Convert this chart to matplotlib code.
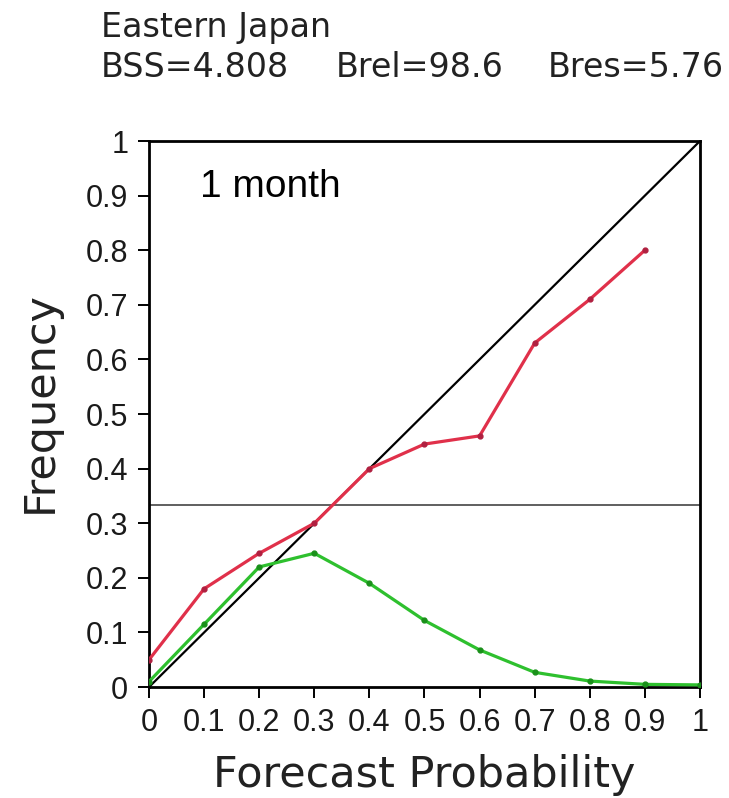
import numpy as np
import matplotlib
matplotlib.use("Agg")
import matplotlib.pyplot as plt

# reliability diagram, Eastern Japan, 1 month lead
prob = [0.0, 0.1, 0.2, 0.3, 0.4, 0.5, 0.6, 0.7, 0.8, 0.9]
obs_freq = [0.05, 0.18, 0.245, 0.30, 0.40, 0.445, 0.46, 0.63, 0.71, 0.80]
prob_g = [0.0, 0.1, 0.2, 0.3, 0.4, 0.5, 0.6, 0.7, 0.8, 0.9, 1.0]
fcst_freq = [0.01, 0.115, 0.22, 0.245, 0.19, 0.122, 0.068, 0.027, 0.011, 0.005, 0.004]
clim = 1.0 / 3.0

ticks = [0, 0.1, 0.2, 0.3, 0.4, 0.5, 0.6, 0.7, 0.8, 0.9, 1]
ticklabels = ["0", "0.1", "0.2", "0.3", "0.4", "0.5", "0.6", "0.7", "0.8", "0.9", "1"]

fig = plt.figure(figsize=(7.29, 7.98), dpi=100)
ax = fig.add_axes([0.2044, 0.139, 0.7558, 0.6843])

ax.plot([0, 1], [0, 1], color="black", lw=1.6, zorder=2)
ax.axhline(clim, color="#444444", lw=1.2, zorder=1)
ax.plot(prob, obs_freq, color="#e0304a", lw=2.3, marker="o", ms=3.5,
        mfc="#b02040", mec="#b02040", zorder=3)
ax.plot(prob_g, fcst_freq, color="#2ec02e", lw=2.3, marker="o", ms=3.5,
        mfc="#1a901a", mec="#1a901a", zorder=3)

ax.set_xlim(0, 1)
ax.set_ylim(0, 1)
ax.set_xticks(ticks)
ax.set_xticklabels(ticklabels, family="Liberation Sans")
ax.set_yticks(ticks)
ax.set_yticklabels(ticklabels, family="Liberation Sans")
ax.tick_params(direction="out", length=8, width=1.4, labelsize=22, pad=7,
               labelcolor="#1a1a1a")
for s in ax.spines.values():
    s.set_linewidth(2)

ax.set_xlabel("Forecast Probability", fontsize=31, color="#222222")
ax.xaxis.set_label_coords(0.5, -0.122)
ax.set_ylabel("Frequency", fontsize=31, color="#222222")
ax.yaxis.set_label_coords(-0.16, 0.522)

ax.text(0.093, 0.897, "1 month", fontsize=28, family="Liberation Sans")

fig.text(101 / 729, 1 - 37 / 798, "Eastern Japan", fontsize=24, color="#222222")
fig.text(101 / 729, 1 - 77 / 798, "BSS=4.808", fontsize=24, color="#222222")
fig.text(336 / 729, 1 - 77 / 798, "Brel=98.6", fontsize=24, color="#222222")
fig.text(548 / 729, 1 - 77 / 798, "Bres=5.76", fontsize=24, color="#222222")

fig.savefig("out.png", dpi=100)
